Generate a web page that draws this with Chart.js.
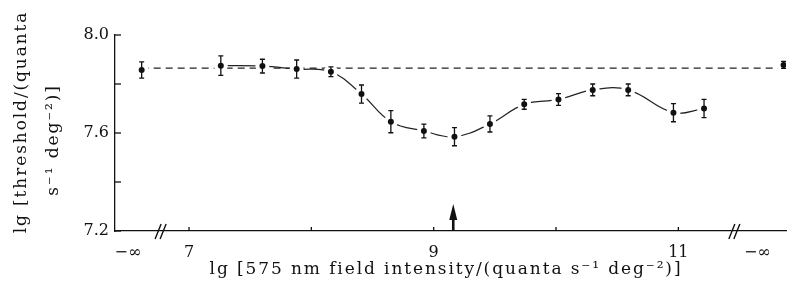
<!DOCTYPE html>
<html>
<head>
<meta charset="utf-8">
<script src="https://cdn.jsdelivr.net/npm/chart.js@4/dist/chart.umd.min.js"></script>
<style>
html,body{margin:0;padding:0;background:#fff;}
#wrap{width:795px;height:287px;position:relative;}
</style>
</head>
<body>
<div id="wrap"><canvas id="c" width="795" height="287"></canvas></div>
<script>
// ---- data ----
const fieldLg = [7.26, 7.60, 7.88, 8.16, 8.41, 8.65, 8.92, 9.17, 9.46, 9.74, 10.02, 10.30, 10.59, 10.96, 11.21];
const thresholdLg = [7.875, 7.873, 7.861, 7.850, 7.759, 7.646, 7.608, 7.585, 7.637, 7.717, 7.737, 7.776, 7.776, 7.683, 7.700];
const thresholdErr = [0.040, 0.028, 0.037, 0.020, 0.037, 0.045, 0.028, 0.037, 0.033, 0.020, 0.024, 0.024, 0.024, 0.037, 0.037];
// points with no field (lg intensity = -infinity), drawn at the two broken axis ends
const darkX = [6.613, 11.86];
const darkY = [7.857, 7.878];
const darkErr = [0.033, 0.014];
const darkLevel = 7.865;
const arrowX = 9.16;
const xTickValues = [6.5, 7, 8, 9, 10, 11, 11.645];
const xTickLabels = ['\u2212\u221E', '7', '', '9', '', '11', '\u2212\u221E'];
const yTickValues = [7.2, 7.4, 7.6, 7.8, 8.0];
const yTickLabels = ['7.2', '', '7.6', '', '8.0'];
const xTitle = 'lg [575 nm field intensity/(quanta s\u207B\u00B9 deg\u207B\u00B2)]';
const yTitleLines = ['lg [threshold/(quanta', 's\u207B\u00B9 deg\u207B\u00B2)]'];

const FONT = '"DejaVu Serif", "Liberation Serif", serif';

const mainPts = fieldLg.map((x, i) => ({x: x, y: thresholdLg[i]}));
const darkPts = darkX.map((x, i) => ({x: x, y: darkY[i]}));
const dashPts = [{x: darkX[0], y: darkLevel}, {x: darkX[1], y: darkLevel}];

const decor = {
  id: 'decor',
  afterDatasetsDraw(chart) {
    const ctx = chart.ctx, xs = chart.scales.x, ys = chart.scales.y;
    ctx.save();
    ctx.strokeStyle = '#111';
    ctx.lineWidth = 1.3;
    const bars = (xa, ya, ea) => {
      xa.forEach((xv, i) => {
        const px = xs.getPixelForValue(xv);
        const y1 = ys.getPixelForValue(ya[i] + ea[i]);
        const y2 = ys.getPixelForValue(ya[i] - ea[i]);
        ctx.beginPath();
        ctx.moveTo(px, y1); ctx.lineTo(px, y2);
        ctx.moveTo(px - 2.5, y1); ctx.lineTo(px + 2.5, y1);
        ctx.moveTo(px - 2.5, y2); ctx.lineTo(px + 2.5, y2);
        ctx.stroke();
      });
    };
    bars(fieldLg, thresholdLg, thresholdErr);
    bars(darkX, darkY, darkErr);
    ctx.restore();
  },
  afterDraw(chart) {
    const ctx = chart.ctx, xs = chart.scales.x, ys = chart.scales.y;
    const ca = chart.chartArea;
    ctx.save();
    ctx.strokeStyle = '#111';
    ctx.fillStyle = '#111';
    ctx.lineWidth = 1.3;
    // inward ticks
    [7, 8, 9, 10, 11].forEach(v => {
      const px = xs.getPixelForValue(v);
      ctx.beginPath(); ctx.moveTo(px, ca.bottom); ctx.lineTo(px, ca.bottom - 4); ctx.stroke();
    });
    yTickValues.forEach(v => {
      const py = ys.getPixelForValue(v);
      ctx.beginPath(); ctx.moveTo(ca.left, py); ctx.lineTo(ca.left + 6, py); ctx.stroke();
    });
    // axis break marks
    const brk = (cx) => {
      const y = ca.bottom;
      ctx.lineWidth = 1.4;
      ctx.beginPath();
      ctx.moveTo(cx - 7, y + 8); ctx.lineTo(cx - 1, y - 7);
      ctx.moveTo(cx - 2, y + 8); ctx.lineTo(cx + 4, y - 7);
      ctx.stroke();
    };
    brk(xs.getPixelForValue(6.78));
    brk(xs.getPixelForValue(11.47));
    // arrow
    const ax = xs.getPixelForValue(arrowX);
    ctx.lineWidth = 2.6;
    ctx.beginPath(); ctx.moveTo(ax, ca.bottom); ctx.lineTo(ax, ca.bottom - 14); ctx.stroke();
    ctx.beginPath();
    ctx.moveTo(ax, ca.bottom - 27);
    ctx.lineTo(ax - 4, ca.bottom - 11);
    ctx.lineTo(ax + 4, ca.bottom - 11);
    ctx.closePath(); ctx.fill();
    // titles
    ctx.fillStyle = '#111';
    ctx.font = '17px ' + FONT;
    ctx.letterSpacing = '1.9px';
    ctx.textAlign = 'center';
    ctx.textBaseline = 'alphabetic';
    ctx.fillText(xTitle, 446, 274);
    ctx.save();
    ctx.translate(26, 122); ctx.rotate(-Math.PI / 2);
    ctx.fillText(yTitleLines[0], 0, 0);
    ctx.restore();
    ctx.save();
    ctx.translate(58, 140); ctx.rotate(-Math.PI / 2);
    ctx.fillText(yTitleLines[1], 0, 0);
    ctx.restore();
    ctx.restore();
  }
};

new Chart(document.getElementById('c'), {
  type: 'scatter',
  data: {
    datasets: [
      {
        label: 'dark level',
        data: dashPts,
        showLine: true,
        borderColor: '#222',
        borderWidth: 1.3,
        borderDash: [7, 5],
        pointRadius: 0,
        order: 3
      },
      {
        label: 'threshold',
        data: mainPts,
        showLine: true,
        tension: 0.4,
        borderColor: '#222',
        borderWidth: 1.2,
        pointRadius: 5,
        pointBorderWidth: 4,
        pointBackgroundColor: '#111',
        pointBorderColor: '#fff',
        order: 2
      },
      {
        label: 'no field',
        data: darkPts,
        showLine: false,
        pointRadius: 5,
        pointBorderWidth: 4,
        pointBackgroundColor: '#111',
        pointBorderColor: '#fff',
        order: 1
      }
    ]
  },
  options: {
    responsive: false,
    animation: false,
    devicePixelRatio: 1,
    layout: {padding: {top: 35, right: 0, bottom: 0, left: 0}},
    plugins: {legend: {display: false}, tooltip: {enabled: false}},
    scales: {
      x: {
        type: 'linear',
        min: 6.395,
        max: 11.88,
        afterBuildTicks: (s) => { s.ticks = xTickValues.map(v => ({value: v})); },
        afterFit: (s) => { s.height = 56; s.paddingLeft = 0; s.paddingRight = 0; },
        ticks: {
          autoSkip: false, maxRotation: 0, minRotation: 0, padding: 12,
          color: '#111', font: {family: FONT, size: 16},
          callback: (v) => { const i = xTickValues.indexOf(v); return i >= 0 ? xTickLabels[i] : ''; }
        },
        grid: {display: false, drawTicks: false},
        border: {display: true, color: '#111', width: 1.3}
      },
      y: {
        type: 'linear',
        min: 7.2,
        max: 8.0,
        afterBuildTicks: (s) => { s.ticks = yTickValues.map(v => ({value: v})); },
        afterFit: (s) => { s.width = 115; },
        ticks: {
          autoSkip: false, padding: 6,
          color: '#111', font: {family: FONT, size: 16},
          callback: (v) => { const i = yTickValues.findIndex(t => Math.abs(t - v) < 1e-6); return i >= 0 ? yTickLabels[i] : ''; }
        },
        grid: {display: false, drawTicks: false},
        border: {display: true, color: '#111', width: 1.3}
      }
    }
  },
  plugins: [decor]
});
</script>
</body>
</html>
